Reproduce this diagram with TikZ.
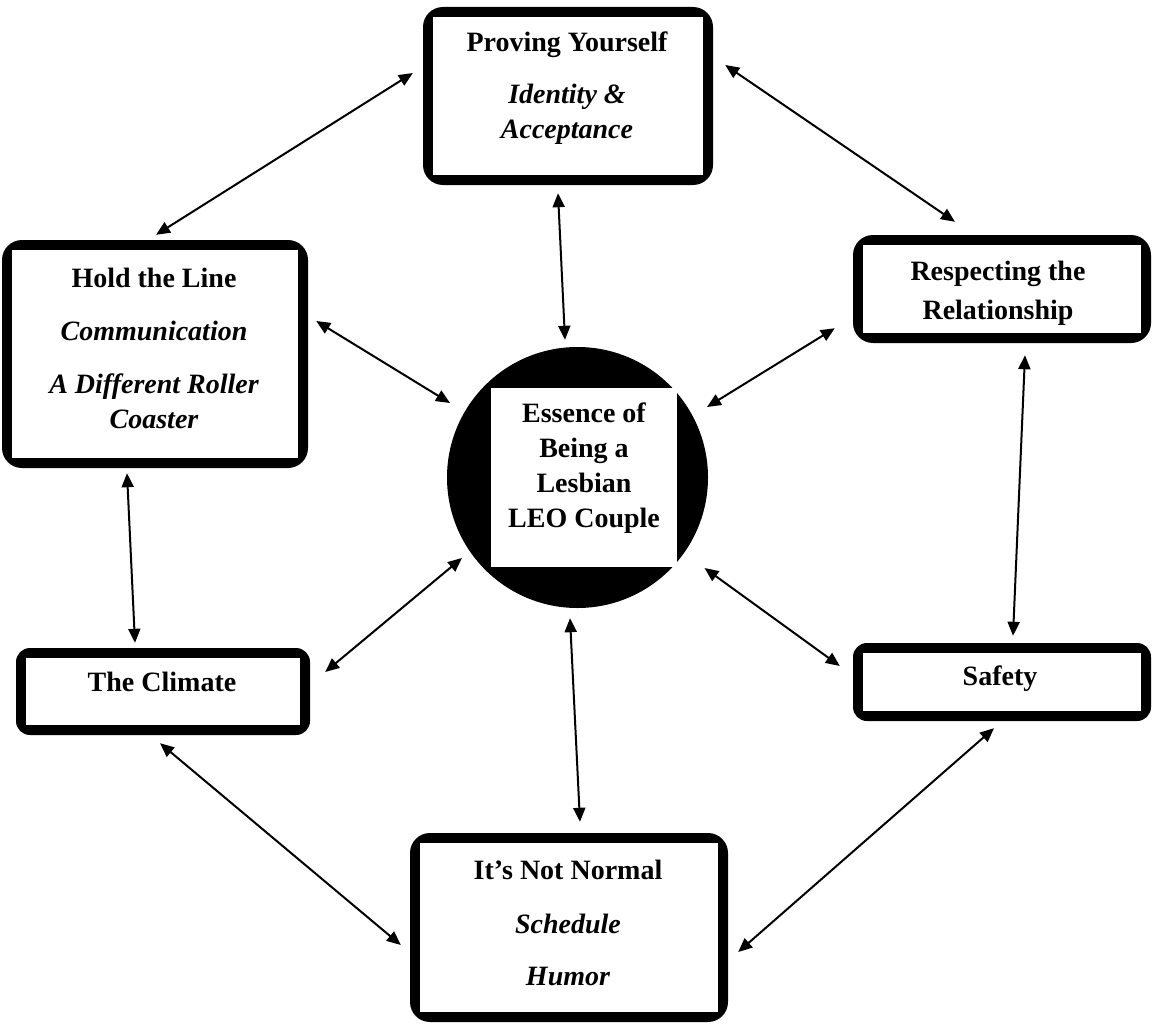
\documentclass[tikz,border=0pt]{standalone}
\usepackage{fontspec}
\setmainfont{Liberation Serif}
\usetikzlibrary{arrows.meta,calc}

\begin{document}
\begin{tikzpicture}[x=1pt,y=-1pt,
    theme/.style={rectangle,rounded corners=20pt,fill=black,inner sep=0pt,
      path picture={\fill[white,sharp corners] ([xshift=10pt,yshift=10pt]path picture bounding box.south west)
        rectangle ([xshift=-10pt,yshift=-10pt]path picture bounding box.north east);}},
    caption/.style={anchor=north,align=center,inner sep=0pt,
      font=\fontsize{28pt}{35pt}\selectfont\bfseries},
    link/.style={{Triangle[length=14pt,width=12pt]}-{Triangle[length=14pt,width=12pt]},line width=2pt}]
    \useasboundingbox (0,0) rectangle (1152,1025);

    % Central circle
    \node[circle,fill=black,minimum size=261pt,inner sep=0pt] (core) at (577.5,477.5) {};
    \node[fill=white,minimum width=186pt,minimum height=179pt,inner sep=0pt] (corebox) at (584,477.5) {};
    \node[caption] (coretext) at (584,403) {Essence of\\Being a\\Lesbian\\LEO Couple};

    % Theme boxes
    \node[theme,minimum width=290pt,minimum height=178pt] (prov) at (568,96) {};
    \node[theme,minimum width=306pt,minimum height=228pt] (hold) at (155,354) {};
    \node[theme,minimum width=298pt,minimum height=108pt] (resp) at (1002,289) {};
    \node[theme,rounded corners=14pt,minimum width=294pt,minimum height=87pt] (clim) at (163,691.5) {};
    \node[theme,rounded corners=14pt,minimum width=298pt,minimum height=78pt] (safe) at (1002,682) {};
    \node[theme,minimum width=318pt,minimum height=189pt] (norm) at (569,927.5) {};

    % Labels
    \node[caption] (provtext) at (567,32) {Proving Yourself\\[17pt]\itshape Identity \&\\\itshape Acceptance};
    \node[caption] (holdtext) at (154,268) {Hold the Line\\[18pt]\itshape Communication\\[18pt]\itshape A Different Roller\\\itshape Coaster};
    \node[caption] (resptext) at (998,261) {Respecting the\\[4pt]Relationship};
    \node[caption] (climtext) at (162,672) {The Climate};
    \node[caption] (safetext) at (1000,666) {Safety};
    \node[caption] (normtext) at (568,860) {It’s Not Normal\\[19pt]\itshape Schedule\\[17pt]\itshape Humor};

    % Connections
    \draw[link] ($(prov.west)+(-10,-23)$) -- ($(hold.north)+(1,-5)$);
    \draw[link] ($(prov.east)+(12,-31)$) -- ($(resp.north)+(-47,-13)$);
    \draw[link] ($(prov.south)+(-10,8)$) -- ($(core.north)+(-12.5,-7)$);
    \draw[link] ($(hold.east)+(8,-33)$) -- ($(core.center)+(-127.5,-74.5)$);
    \draw[link] ($(resp.south west)+(-18,-15)$) -- ($(core.center)+(129.5,-70.5)$);
    \draw[link] ($(hold.south)+(-28,5)$) -- ($(clim.north)+(-28,-5)$);
    \draw[link] ($(resp.south)+(23,12)$) -- ($(safe.north)+(11,-7)$);
    \draw[link] ($(clim.east)+(15,-19.5)$) -- ($(core.center)+(-115.5,80.5)$);
    \draw[link] ($(safe.west)+(-13,-16)$) -- ($(core.center)+(127,90.5)$);
    \draw[link] ($(core.south)+(-7.5,10)$) -- ($(norm.north)+(11,-11)$);
    \draw[link] ($(clim.south)+(-3,8)$) -- ($(norm.west)+(-9,17.5)$);
    \draw[link] ($(safe.south)+(-8,7)$) -- ($(norm.east)+(10,24.5)$);
\end{tikzpicture}
\end{document}
